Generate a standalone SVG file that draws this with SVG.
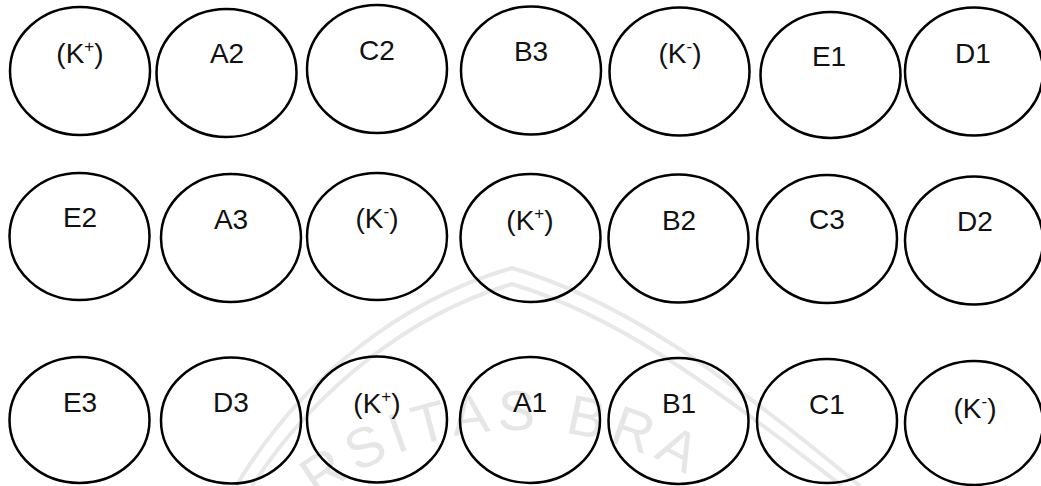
<svg xmlns="http://www.w3.org/2000/svg" width="1041" height="486" viewBox="0 0 1041 486">
<style>
  .n ellipse { fill: none; stroke: #000; stroke-width: 2.5; }
  .n text { font-family: "Liberation Sans", Arial, sans-serif; font-size: 28px; fill: #111; text-anchor: middle; }
  .sup { font-size: 17px; }
  .wm { fill: none; stroke: #e8e8e8; stroke-width: 4; }
  .wmt { font-family: "Liberation Sans", Arial, sans-serif; font-size: 56px; fill: #e6e6e6; }
</style>
<rect width="1041" height="486" fill="#fff"/>
<g id="watermark">
  <path class="wm" d="M 236 486 C 300 380, 400 300, 512 268 C 620 300, 720 370, 860 486"/>
  <path class="wm" d="M 252 486 C 314 390, 410 314, 512 284 C 612 314, 706 380, 842 486"/>
  <path id="wmarc" d="M 190 760 A 330 330 0 0 1 850 760" fill="none"/>
  <text class="wmt" letter-spacing="7"><textPath href="#wmarc" startOffset="300">RSITAS BRA</textPath></text>
</g>
<g id="connectors"></g>
<g id="n1" class="n"><ellipse cx="80" cy="71" rx="70" ry="64"/><text x="80" y="63">(K<tspan class="sup" dy="-11">+</tspan><tspan dy="11">)</tspan></text></g>
<g id="n2" class="n"><ellipse cx="226.5" cy="73" rx="70" ry="64"/><text x="227" y="63">A2</text></g>
<g id="n3" class="n"><ellipse cx="377" cy="69" rx="70" ry="64"/><text x="377" y="60">C2</text></g>
<g id="n4" class="n"><ellipse cx="531" cy="70.5" rx="70" ry="64"/><text x="531" y="61">B3</text></g>
<g id="n5" class="n"><ellipse cx="679.5" cy="71.5" rx="70" ry="64"/><text x="680" y="63">(K<tspan class="sup" dy="-11">-</tspan><tspan dy="11">)</tspan></text></g>
<g id="n6" class="n"><ellipse cx="830.5" cy="75" rx="70" ry="63"/><text x="829" y="66">E1</text></g>
<g id="n7" class="n"><ellipse cx="974" cy="71.5" rx="69" ry="64"/><text x="973" y="63">D1</text></g>

<g id="n8" class="n"><ellipse cx="79.5" cy="236.5" rx="70" ry="63.5"/><text x="80" y="227">E2</text></g>
<g id="n9" class="n"><ellipse cx="231" cy="238" rx="70" ry="64"/><text x="231" y="229">A3</text></g>
<g id="n10" class="n"><ellipse cx="377" cy="236.5" rx="70" ry="63.5"/><text x="377" y="228">(K<tspan class="sup" dy="-11">-</tspan><tspan dy="11">)</tspan></text></g>
<g id="n11" class="n"><ellipse cx="530.5" cy="238" rx="70" ry="64"/><text x="530" y="230">(K<tspan class="sup" dy="-11">+</tspan><tspan dy="11">)</tspan></text></g>
<g id="n12" class="n"><ellipse cx="678.5" cy="238.5" rx="70" ry="64"/><text x="679" y="230">B2</text></g>
<g id="n13" class="n"><ellipse cx="827" cy="239" rx="70" ry="64"/><text x="827" y="229">C3</text></g>
<g id="n14" class="n"><ellipse cx="974" cy="240.5" rx="69" ry="64"/><text x="975" y="231">D2</text></g>

<g id="n15" class="n"><ellipse cx="79.5" cy="420" rx="70" ry="63"/><text x="80" y="412">E3</text></g>
<g id="n16" class="n"><ellipse cx="231" cy="420.5" rx="70" ry="63"/><text x="231" y="412">D3</text></g>
<g id="n17" class="n"><ellipse cx="377" cy="419.5" rx="70" ry="63"/><text x="377" y="413">(K<tspan class="sup" dy="-11">+</tspan><tspan dy="11">)</tspan></text></g>
<g id="n18" class="n"><ellipse cx="530" cy="420" rx="70" ry="63"/><text x="530" y="412">A1</text></g>
<g id="n19" class="n"><ellipse cx="678.5" cy="421" rx="70" ry="63"/><text x="679" y="413">B1</text></g>
<g id="n20" class="n"><ellipse cx="827" cy="421" rx="70" ry="62"/><text x="827" y="414">C1</text></g>
<g id="n21" class="n"><ellipse cx="974" cy="423" rx="69" ry="62"/><text x="975" y="418">(K<tspan class="sup" dy="-11">-</tspan><tspan dy="11">)</tspan></text></g>
</svg>
